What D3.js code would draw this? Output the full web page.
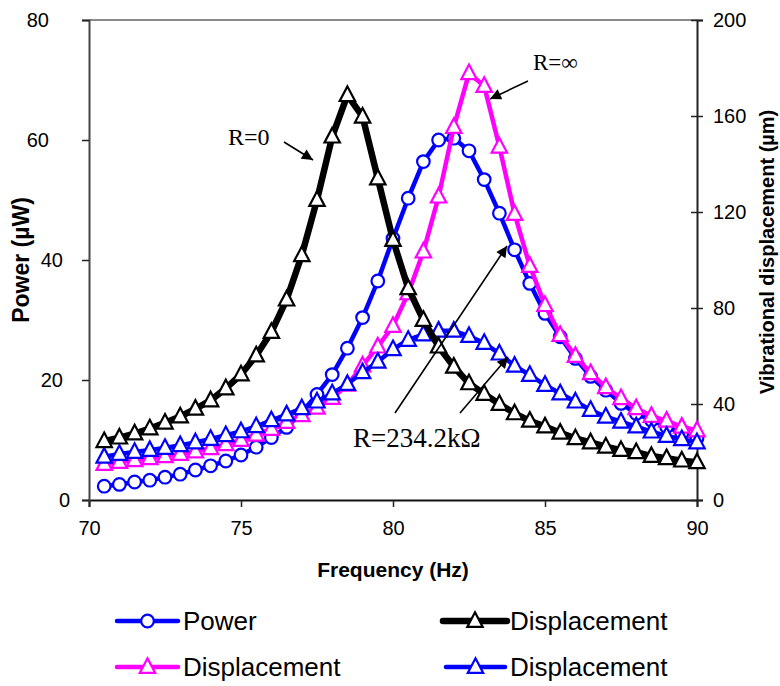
<!DOCTYPE html>
<html>
<head>
<meta charset="utf-8">
<script src="https://cdn.jsdelivr.net/npm/d3@7"></script>
<style>
  html, body { margin: 0; padding: 0; background: #fff; }
  svg { display: block; }
</style>
</head>
<body>
<svg id="chart" width="780" height="686"></svg>
<script>
// ---------- data ----------
const frequency = [70.5, 71, 71.5, 72, 72.5, 73, 73.5, 74, 74.5, 75,
                   75.5, 76, 76.5, 77, 77.5, 78, 78.5, 79, 79.5, 80,
                   80.5, 81, 81.5, 82, 82.5, 83, 83.5, 84, 84.5, 85,
                   85.5, 86, 86.5, 87, 87.5, 88, 88.5, 89, 89.5, 90];
// Power (µW), left axis
const power = [2.3, 2.6, 3.0, 3.3, 3.8, 4.3, 5.0, 5.7, 6.5, 7.5,
               8.8, 10.4, 12.1, 14.6, 17.6, 20.9, 25.3, 30.4, 36.5, 43.6,
               50.3, 56.4, 60.0, 60.3, 58.2, 53.4, 47.8, 41.7, 36.1, 31.1,
               27.2, 23.6, 20.6, 18.3, 16.1, 14.4, 13.3, 12.2, 11.1, 10.3];
// Displacement (µm), right axis, R = 0
const dispR0 = [24.5, 26.0, 27.7, 29.8, 32.2, 34.8, 38.0, 41.5, 46.5, 52.3,
                60.2, 70.0, 83.5, 102.0, 125.0, 151.4, 168.7, 159.7, 134.0, 108.3,
                88.2, 75.0, 63.9, 55.5, 48.6, 44.2, 40.0, 36.1, 33.0, 30.6,
                28.0, 25.7, 24.0, 22.2, 20.8, 19.9, 18.3, 17.4, 16.4, 15.7];
// Displacement (µm), right axis, R = ∞
const dispRinf = [15.0, 15.8, 16.6, 17.4, 18.2, 19.2, 20.2, 21.6, 23.2, 25.0,
                  27.2, 29.6, 32.5, 35.3, 38.4, 42.5, 48.0, 56.0, 63.9, 72.5,
                  86.1, 103.5, 126.4, 155.4, 177.8, 172.5, 147.2, 119.2, 97.5, 81.2,
                  68.7, 60.0, 52.8, 47.0, 42.4, 38.2, 35.0, 33.0, 30.5, 29.0];
// Displacement (µm), right axis, R = 234.2 kΩ
const dispRopt = [18.0, 19.2, 20.0, 20.8, 21.7, 22.8, 24.0, 25.4, 27.0, 28.6,
                  30.7, 33.2, 35.6, 38.2, 41.0, 44.4, 48.3, 53.2, 57.6, 62.8,
                  66.7, 69.0, 70.5, 70.5, 68.3, 65.4, 61.0, 55.9, 52.1, 47.9,
                  44.4, 41.0, 37.5, 34.7, 32.6, 30.6, 28.5, 26.7, 25.3, 24.0];

const xTicks = [70, 75, 80, 85, 90];
const yLeftTicks = [0, 20, 40, 60, 80];
const yRightTicks = [0, 40, 80, 120, 160, 200];
const legendLabels = ["Power", "Displacement", "Displacement", "Displacement"];
const annotations = ["R=0", "R=\u221E", "R=234.2k\u03A9"];

// ---------- layout ----------
const svg = d3.select("#chart");
const L = 89, R = 697, T = 20, B = 500;
const x = d3.scaleLinear().domain([70, 90]).range([L, R]);
const yL = d3.scaleLinear().domain([0, 80]).range([B, T]);
const yR = d3.scaleLinear().domain([0, 200]).range([B, T]);

const sans = "'Liberation Sans', Arial, Helvetica, sans-serif";
const serif = "'Liberation Serif', 'Times New Roman', Times, serif";

// top border of plot area
svg.append("line").attr("x1", L).attr("x2", R).attr("y1", T).attr("y2", T)
  .attr("stroke", "#8a8a8a").attr("stroke-width", 2);

// ---------- axes ----------
const gx = svg.append("g").attr("transform", `translate(0,${B})`)
  .call(d3.axisBottom(x).tickValues(xTicks).tickSize(7).tickPadding(14).tickFormat(d3.format("d")));
const gl = svg.append("g").attr("transform", `translate(${L},0)`)
  .call(d3.axisLeft(yL).tickValues(yLeftTicks).tickSize(7).tickPadding(18).tickFormat(d3.format("d")));
const gr = svg.append("g").attr("transform", `translate(${R},0)`)
  .call(d3.axisRight(yR).tickValues(yRightTicks).tickSize(6).tickPadding(10).tickFormat(d3.format("d")));

[gx, gl, gr].forEach(g => {
  g.select(".domain").attr("stroke", "#222").attr("stroke-width", 2);
  g.selectAll(".tick line").attr("stroke", "#222").attr("stroke-width", 1.5);
  g.selectAll(".tick text").attr("font-family", sans).attr("font-size", 20).attr("fill", "#000");
});
gx.select(".domain").attr("stroke", "#111");
gl.select(".domain").attr("stroke", "#444");
gr.selectAll(".tick line").attr("x1", -6).attr("x2", 6);
gx.selectAll(".tick text").attr("dy", "0.71em");
// left tick labels in the reference are not perfectly right-aligned
gl.selectAll(".tick text").attr("x", d => d >= 60 ? -40 : (d > 0 ? -26 : -19));

// axis titles
svg.append("text").attr("x", 393).attr("y", 577).attr("text-anchor", "middle")
  .attr("font-family", sans).attr("font-weight", "bold").attr("font-size", 21)
  .text("Frequency (Hz)");
svg.append("text").attr("transform", "translate(29,260) rotate(-90)").attr("text-anchor", "middle")
  .attr("font-family", sans).attr("font-weight", "bold").attr("font-size", 23)
  .text("Power (\u00B5W)");
svg.append("text").attr("transform", "translate(774,252) rotate(-90)").attr("text-anchor", "middle")
  .attr("font-family", sans).attr("font-weight", "bold").attr("font-size", 20)
  .text("Vibrational displacement (\u00B5m)");

// ---------- series ----------
const triPath = (s) => `M0,${-s * 0.62}L${s * 0.55},${s * 0.42}L${-s * 0.55},${s * 0.42}Z`;

function drawSeries(values, yScale, color, lw, marker) {
  const pts = frequency.map((f, i) => [x(f), yScale(values[i])]);
  const g = svg.append("g");
  g.append("path").attr("d", d3.line()(pts)).attr("fill", "none")
    .attr("stroke", color).attr("stroke-width", lw).attr("stroke-linejoin", "round");
  if (marker === "circle") {
    g.selectAll("circle").data(pts).join("circle")
      .attr("cx", d => d[0]).attr("cy", d => d[1]).attr("r", 6.3)
      .attr("fill", "#fff").attr("stroke", color).attr("stroke-width", 2.2);
  } else {
    g.selectAll("path.m").data(pts).join("path").attr("class", "m")
      .attr("transform", d => `translate(${d[0]},${d[1]})`)
      .attr("d", triPath(14)).attr("fill", "#fff").attr("stroke", color)
      .attr("stroke-width", 2.2).attr("stroke-linejoin", "miter");
  }
}

const blue = "#0000ff", magenta = "#ff00ff", black = "#000000";
drawSeries(power, yL, blue, 4.5, "circle");
drawSeries(dispRinf, yR, magenta, 4.5, "tri");
drawSeries(dispRopt, yR, blue, 4.5, "tri");
drawSeries(dispR0, yR, black, 6.5, "tri");

// ---------- annotations ----------
svg.append("defs").append("marker").attr("id", "ah")
  .attr("viewBox", "0 0 10 10").attr("refX", 10).attr("refY", 5)
  .attr("markerUnits", "userSpaceOnUse").attr("markerWidth", 16).attr("markerHeight", 11)
  .attr("orient", "auto")
  .append("path").attr("d", "M0,0L10,5L0,10Z").attr("fill", "#000");

const arrows = [
  [284, 142, 313, 160],
  [528, 81, 490, 99],
  [395, 413, 507, 246],
  [460, 413, 508, 357]
];
svg.selectAll("line.arrow").data(arrows).join("line").attr("class", "arrow")
  .attr("x1", d => d[0]).attr("y1", d => d[1]).attr("x2", d => d[2]).attr("y2", d => d[3])
  .attr("stroke", "#000").attr("stroke-width", 1.6).attr("marker-end", "url(#ah)");

svg.append("text").attr("x", 228).attr("y", 145).attr("font-family", serif).attr("font-size", 24).text(annotations[0]);
svg.append("text").attr("x", 533).attr("y", 70).attr("font-family", serif).attr("font-size", 23).text(annotations[1]);
svg.append("text").attr("x", 353).attr("y", 447).attr("font-family", serif).attr("font-size", 27).text(annotations[2]);

// ---------- legend ----------
const legendItems = [
  { label: legendLabels[0], color: blue, marker: "circle", lw: 4.5, x1: 117, x2: 178, tx: 183, y: 621 },
  { label: legendLabels[1], color: black, marker: "tri", lw: 6.5, x1: 443, x2: 507, tx: 510, y: 621 },
  { label: legendLabels[2], color: magenta, marker: "tri", lw: 4.5, x1: 117, x2: 178, tx: 183, y: 667 },
  { label: legendLabels[3], color: blue, marker: "tri", lw: 4.5, x1: 446, x2: 505, tx: 510, y: 667 }
];
const lg = svg.append("g").selectAll("g").data(legendItems).join("g");
lg.append("line").attr("x1", d => d.x1).attr("x2", d => d.x2).attr("y1", d => d.y).attr("y2", d => d.y)
  .attr("stroke", d => d.color).attr("stroke-width", d => d.lw).attr("stroke-linecap", "round");
lg.each(function (d) {
  const g = d3.select(this);
  const cx = (d.x1 + d.x2) / 2;
  if (d.marker === "circle") {
    g.append("circle").attr("cx", cx).attr("cy", d.y).attr("r", 6.3)
      .attr("fill", "#fff").attr("stroke", d.color).attr("stroke-width", 2.2);
  } else {
    g.append("path").attr("transform", `translate(${cx},${d.y})`).attr("d", triPath(14))
      .attr("fill", "#fff").attr("stroke", d.color).attr("stroke-width", 2.2);
  }
});
lg.append("text").attr("x", d => d.tx).attr("y", d => d.y).attr("dy", "0.35em")
  .attr("font-family", sans).attr("font-size", 26).attr("fill", "#000").text(d => d.label);
</script>
</body>
</html>
